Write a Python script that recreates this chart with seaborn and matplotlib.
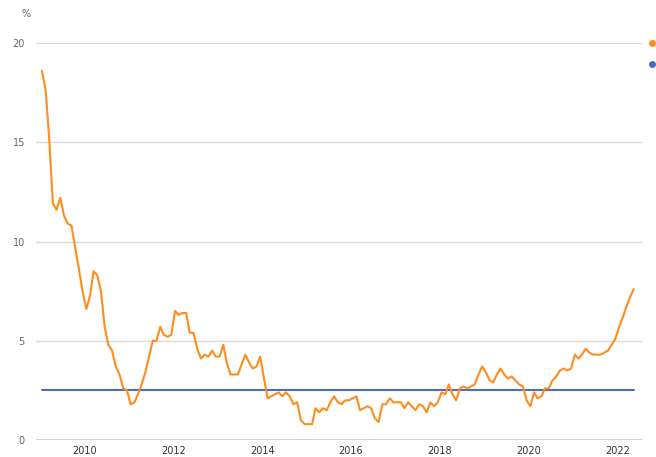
#Iceland 12-month CPI inflation vs. the 2.5% inflation target, monthly 2009-2022
import pandas as pd
import numpy as np
import matplotlib
matplotlib.use('Agg')
import matplotlib.pyplot as plt
import matplotlib.dates as mdates
from matplotlib.lines import Line2D
import seaborn as sns

#monthly values, Jan 2009 .. May 2022
infl_2009 = [18.6, 17.6, 15.2, 11.9, 11.6, 12.2, 11.3, 10.9, 10.8, 9.7, 8.6, 7.5]
infl_2010 = [6.6, 7.3, 8.5, 8.3, 7.5, 5.7, 4.8, 4.5, 3.7, 3.3, 2.6, 2.5]
infl_2011 = [1.8, 1.9, 2.3, 2.8, 3.4, 4.2, 5.0, 5.0, 5.7, 5.3, 5.2, 5.3]
infl_2012 = [6.5, 6.3, 6.4, 6.4, 5.4, 5.4, 4.6, 4.1, 4.3, 4.2, 4.5, 4.2]
infl_2013 = [4.2, 4.8, 3.9, 3.3, 3.3, 3.3, 3.8, 4.3, 3.9, 3.6, 3.7, 4.2]
infl_2014 = [3.1, 2.1, 2.2, 2.3, 2.4, 2.2, 2.4, 2.2, 1.8, 1.9, 1.0, 0.8]
infl_2015 = [0.8, 0.8, 1.6, 1.4, 1.6, 1.5, 1.9, 2.2, 1.9, 1.8, 2.0, 2.0]
infl_2016 = [2.1, 2.2, 1.5, 1.6, 1.7, 1.6, 1.1, 0.9, 1.8, 1.8, 2.1, 1.9]
infl_2017 = [1.9, 1.9, 1.6, 1.9, 1.7, 1.5, 1.8, 1.7, 1.4, 1.9, 1.7, 1.9]
infl_2018 = [2.4, 2.3, 2.8, 2.3, 2.0, 2.6, 2.7, 2.6, 2.7, 2.8, 3.3, 3.7]
infl_2019 = [3.4, 3.0, 2.9, 3.3, 3.6, 3.3, 3.1, 3.2, 3.0, 2.8, 2.7, 2.0]
infl_2020 = [1.7, 2.4, 2.1, 2.2, 2.6, 2.6, 3.0, 3.2, 3.5, 3.6, 3.5, 3.6]
infl_2021 = [4.3, 4.1, 4.3, 4.6, 4.4, 4.3, 4.3, 4.3, 4.4, 4.5, 4.8, 5.1]
infl_2022 = [5.7, 6.2, 6.7, 7.2, 7.6]
target = 2.5
ticks_years = [2010, 2012, 2014, 2016, 2018, 2020, 2022]

inflation = (infl_2009 + infl_2010 + infl_2011 + infl_2012 + infl_2013 + infl_2014 + infl_2015
             + infl_2016 + infl_2017 + infl_2018 + infl_2019 + infl_2020 + infl_2021 + infl_2022)
dates = pd.date_range('2009-01-01', periods=len(inflation), freq='MS') + pd.Timedelta(days=14)
df = pd.DataFrame({'date': dates, 'inflation': inflation})
df_t = pd.DataFrame({'date': [dates[0], dates[-1]], 'target': [target, target]})

orange = '#FF8C1E'
blue = '#4A6CC6'

sns.set_style('white')
plt.rcParams['font.family'] = ['DejaVu Sans']

fig = plt.figure(figsize=(6.56, 4.57), dpi=100)
ax = fig.add_axes([0.0549, 0.0372, 0.9238, 0.8687])

sns.lineplot(data=df_t, x='date', y='target', color=blue, lw=1.5, ax=ax)
sns.lineplot(data=df, x='date', y='inflation', color=orange, lw=1.5, ax=ax)

ax.set_ylim(0, 20)
ax.set_xlim(pd.Timestamp('2008-11-27'), pd.Timestamp('2022-07-22'))
ax.set_yticks([0, 5, 10, 15, 20])
ax.set_xticks([pd.Timestamp(str(y) + '-01-01') for y in ticks_years])
ax.xaxis.set_major_formatter(mdates.DateFormatter('%Y'))
ax.yaxis.grid(True, color='#dcdcdc', lw=1)
ax.set_axisbelow(True)
for s in ax.spines.values():
    s.set_visible(False)
ax.axhline(0, color='#c8c8c8', lw=1.2, zorder=0)
ax.tick_params(axis='y', length=0, pad=8, labelsize=7, labelcolor='#666666')
ax.tick_params(axis='x', length=0, pad=4, labelsize=7, labelcolor='#333333')
ax.set_xlabel('')
ax.set_ylabel('')
fig.text(0.039, 0.970, '%', fontsize=7, color='#666666', ha='center', va='center')

#legend sits beyond the right edge, only the markers peek in
handles = [Line2D([], [], marker='o', ls='', color=orange, markersize=4),
           Line2D([], [], marker='o', ls='', color=blue, markersize=4)]
fig.legend(handles, ['', ''], loc='upper left', bbox_to_anchor=(0.981, 0.925),
           frameon=False, fontsize=7, handletextpad=0.4, labelspacing=1.2, borderaxespad=0,
           handlelength=1.0)

fig.savefig('out.png', dpi=100)
